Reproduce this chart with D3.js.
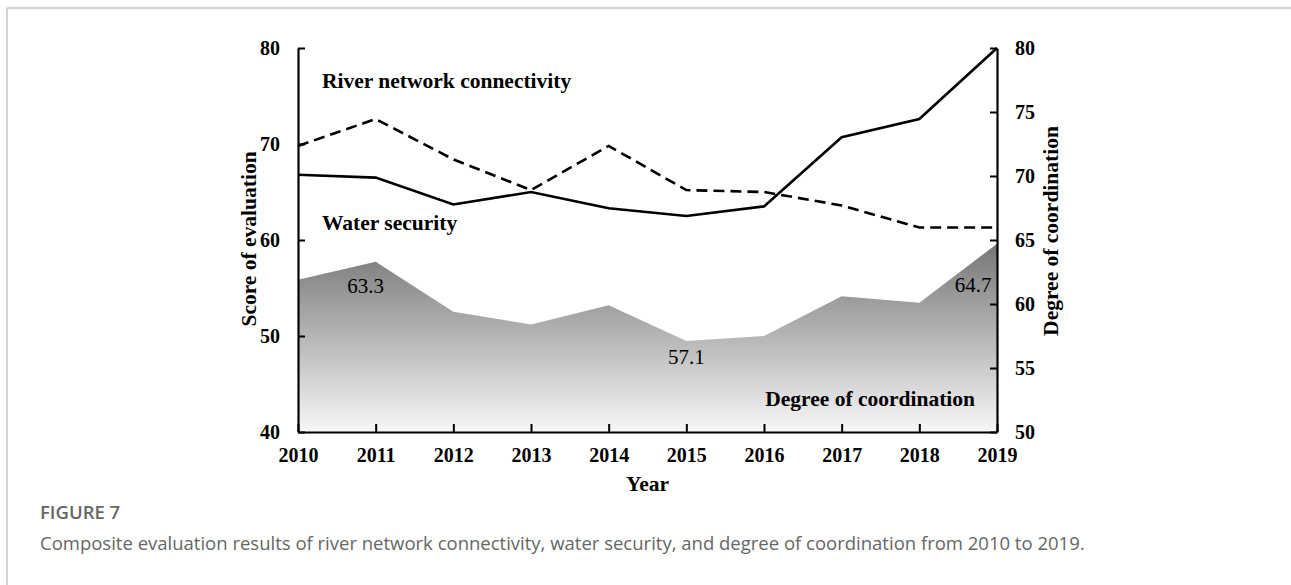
<!DOCTYPE html>
<html>
<head>
<meta charset="utf-8">
<script src="https://cdn.jsdelivr.net/npm/d3@7"></script>
<style>
  body { margin: 0; background: #fff; }
  svg { display: block; }
</style>
</head>
<body>
<svg id="chart"></svg>
<script>
const years = [2010, 2011, 2012, 2013, 2014, 2015, 2016, 2017, 2018, 2019];
const riverConnectivity = [69.8, 72.6, 68.4, 65.2, 69.8, 65.2, 65.0, 63.6, 61.3, 61.3];
const waterSecurity = [66.8, 66.5, 63.7, 65.0, 63.3, 62.5, 63.5, 70.7, 72.6, 80.0];
const coordination = [61.9, 63.3, 59.4, 58.4, 59.9, 57.1, 57.5, 60.6, 60.1, 64.7];
const leftTicks = [40, 50, 60, 70, 80];
const rightTicks = [50, 55, 60, 65, 70, 75, 80];
const labelled = [{i: 1, dx: -10, dy: 31}, {i: 5, dx: 0, dy: 23}, {i: 9, dx: -24, dy: 48}];

const width = 1291, height = 585;
const margin = {top: 48, left: 298, bottom: 153, right: 294};
const serif = "'Liberation Serif', 'Times New Roman', serif";

const svg = d3.select("#chart").attr("width", width).attr("height", height);

// page frame
svg.append("line").attr("x1", 7).attr("x2", width).attr("y1", 8).attr("y2", 8)
    .attr("stroke", "#c4c4c4").attr("stroke-width", 1.5);
svg.append("line").attr("x1", 7).attr("x2", 7).attr("y1", 8).attr("y2", height)
    .attr("stroke", "#c4c4c4").attr("stroke-width", 1.5);

const x = d3.scaleLinear().domain([2010, 2019]).range([margin.left, width - margin.right]);
const yL = d3.scaleLinear().domain([40, 80]).range([height - margin.bottom, margin.top]);
const yR = d3.scaleLinear().domain([50, 80]).range([height - margin.bottom, margin.top]);

const grad = svg.append("defs").append("linearGradient")
    .attr("id", "fade").attr("x1", 0).attr("x2", 0).attr("y1", 0).attr("y2", 1);
grad.append("stop").attr("offset", "0%").attr("stop-color", "#767676");
grad.append("stop").attr("offset", "100%").attr("stop-color", "#f7f7f7");

svg.append("path")
    .datum(coordination)
    .attr("fill", "url(#fade)")
    .attr("d", d3.area().x((d, i) => x(years[i])).y0(yR(50)).y1(d => yR(d)));

svg.append("path")
    .datum(riverConnectivity)
    .attr("fill", "none").attr("stroke", "#000").attr("stroke-width", 2.6)
    .attr("stroke-dasharray", "11,6")
    .attr("d", d3.line().x((d, i) => x(years[i])).y(d => yL(d)));

svg.append("path")
    .datum(waterSecurity)
    .attr("fill", "none").attr("stroke", "#000").attr("stroke-width", 2.6)
    .attr("d", d3.line().x((d, i) => x(years[i])).y(d => yL(d)));

// axes
const bold = g => g.selectAll("text")
    .attr("font-family", serif).attr("font-size", 20).attr("font-weight", "bold").attr("fill", "#000");

svg.append("g")
    .attr("transform", `translate(0,${height - margin.bottom})`)
    .call(d3.axisTop(x).tickValues(years).tickFormat(d3.format("d")).tickSize(8).tickSizeOuter(0))
    .call(g => g.selectAll(".domain").attr("stroke-width", 2.2))
    .call(g => g.selectAll(".tick line").attr("stroke-width", 2))
    .call(g => g.selectAll("text").attr("y", 30).attr("dy", "0"))
    .call(bold);

svg.append("g")
    .attr("transform", `translate(${margin.left},0)`)
    .call(d3.axisRight(yL).tickValues(leftTicks).tickSize(7).tickSizeOuter(0))
    .call(g => g.selectAll(".domain").attr("stroke-width", 2.2))
    .call(g => g.selectAll(".tick line").attr("stroke-width", 2))
    .call(g => g.selectAll("text").attr("x", -18).attr("text-anchor", "end"))
    .call(bold);

svg.append("g")
    .attr("transform", `translate(${width - margin.right},0)`)
    .call(d3.axisLeft(yR).tickValues(rightTicks).tickSize(7).tickSizeOuter(0))
    .call(g => g.selectAll(".domain").attr("stroke-width", 2.2))
    .call(g => g.selectAll(".tick line").attr("stroke-width", 2))
    .call(g => g.selectAll("text").attr("x", 18).attr("text-anchor", "start"))
    .call(bold);

// titles
const title = (t, px, py, rot) => svg.append("text")
    .attr("transform", `translate(${px},${py}) rotate(${rot})`)
    .attr("text-anchor", "middle").attr("font-family", serif)
    .attr("font-size", 21.5).attr("font-weight", "bold").text(t);

title("Year", (x(2010) + x(2019)) / 2, 491, 0);
title("Score of evaluation", 256, 239, -90);
title("Degree of coordination", 1058, 231, -90);

const series = [
    {t: "River network connectivity", px: x(2010) + 24, py: 88},
    {t: "Water security", px: x(2010) + 24, py: 230},
    {t: "Degree of coordination", px: x(2019) - 22, py: 406, anchor: "end"}
];
series.forEach(s => svg.append("text")
    .attr("x", s.px).attr("y", s.py).attr("text-anchor", s.anchor || "start")
    .attr("font-family", serif).attr("font-size", 21.5).attr("font-weight", "bold").text(s.t));

svg.selectAll(".val").data(labelled).join("text")
    .attr("x", d => x(years[d.i]) + d.dx)
    .attr("y", d => yR(coordination[d.i]) + d.dy)
    .attr("text-anchor", "middle")
    .attr("font-family", serif).attr("font-size", 21)
    .text(d => coordination[d.i].toFixed(1));

// caption
svg.append("text").attr("x", 40).attr("y", 519)
    .attr("font-family", "'Open Sans', sans-serif").attr("font-size", 18.5).attr("font-weight", 600)
    .attr("fill", "#666").text("FIGURE 7");
svg.append("text").attr("x", 40).attr("y", 550)
    .attr("font-family", "'Open Sans', sans-serif").attr("font-size", 18.5)
    .attr("fill", "#666")
    .text("Composite evaluation results of river network connectivity, water security, and degree of coordination from 2010 to 2019.");
</script>
</body>
</html>
